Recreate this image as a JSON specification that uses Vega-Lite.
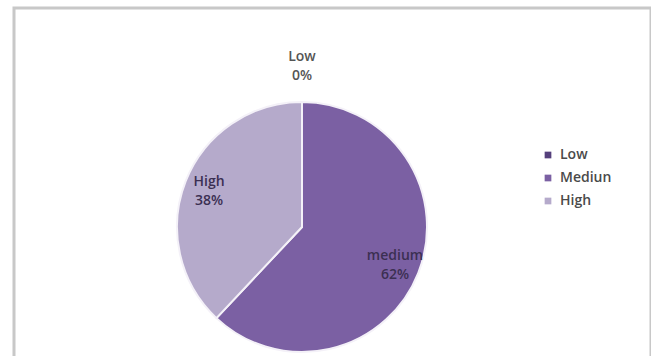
{
  "$schema": "https://vega.github.io/schema/vega-lite/v6.json",
  "width": 637,
  "height": 438,
  "padding": {"left": 14, "top": 8, "right": 0, "bottom": 0},
  "background": "white",
  "view": {"stroke": "#c8c8c8", "strokeWidth": 3},
  "config": {
    "view": {"stroke": "#c8c8c8", "strokeWidth": 3},
    "font": "Open Sans"
  },
  "data": {
    "values": [
      {"category": "Low", "label": "Low", "share": 0},
      {"category": "Mediun", "label": "medium", "share": 0.62},
      {"category": "High", "label": "High", "share": 0.38}
    ]
  },
  "transform": [
    {"calculate": "datum.label + '\\n' + format(datum.share, '.0%')", "as": "text"},
    {"calculate": "indexof(['Low','Mediun','High'], datum.category)", "as": "rank"}
  ],
  "encoding": {
    "theta": {"field": "share", "type": "quantitative", "stack": true},
    "order": {"field": "rank", "type": "quantitative"}
  },
  "layer": [
    {
      "mark": {"type": "arc", "x": 288, "y": 219, "outerRadius": 127, "fill": "#dcd8e2", "stroke": null},
      "encoding": {"theta": {"datum": 1, "type": "quantitative"}, "order": null}
    },
    {
      "mark": {"type": "arc", "x": 288, "y": 219, "outerRadius": 125, "stroke": "#f4f1f8", "strokeWidth": 2},
      "encoding": {
        "color": {
          "field": "category",
          "type": "nominal",
          "scale": {"domain": ["Low", "Mediun", "High"], "range": ["#55407c", "#7b60a3", "#b5aacb"]},
          "legend": {
            "title": null,
            "orient": "none",
            "legendX": 527,
            "legendY": 140,
            "padding": 0,
            "symbolType": "square",
            "symbolSize": 45,
            "symbolStrokeWidth": 0,
            "labelFont": "Open Sans",
            "labelFontSize": 14,
            "labelFontWeight": 600,
            "labelColor": "#4a4a4a",
            "labelOffset": 5,
            "rowPadding": 9
          }
        }
      }
    },
    {
      "transform": [{"filter": "datum.share > 0"}],
      "mark": {"type": "text", "x": 288, "y": 219, "radius": 100, "dy": -8, "lineBreak": "\n", "fontSize": 14, "fontWeight": 600, "font": "Open Sans", "fill": "#3b2f52", "lineHeight": 19},
      "encoding": {"text": {"field": "text", "type": "nominal"}}
    },
    {
      "transform": [{"filter": "datum.share == 0"}],
      "mark": {"type": "text", "x": 288, "y": 219, "radius": 170, "lineBreak": "\n", "fontSize": 14, "fontWeight": 600, "font": "Open Sans", "fill": "#555555", "lineHeight": 19},
      "encoding": {"text": {"field": "text", "type": "nominal"}}
    }
  ]
}
